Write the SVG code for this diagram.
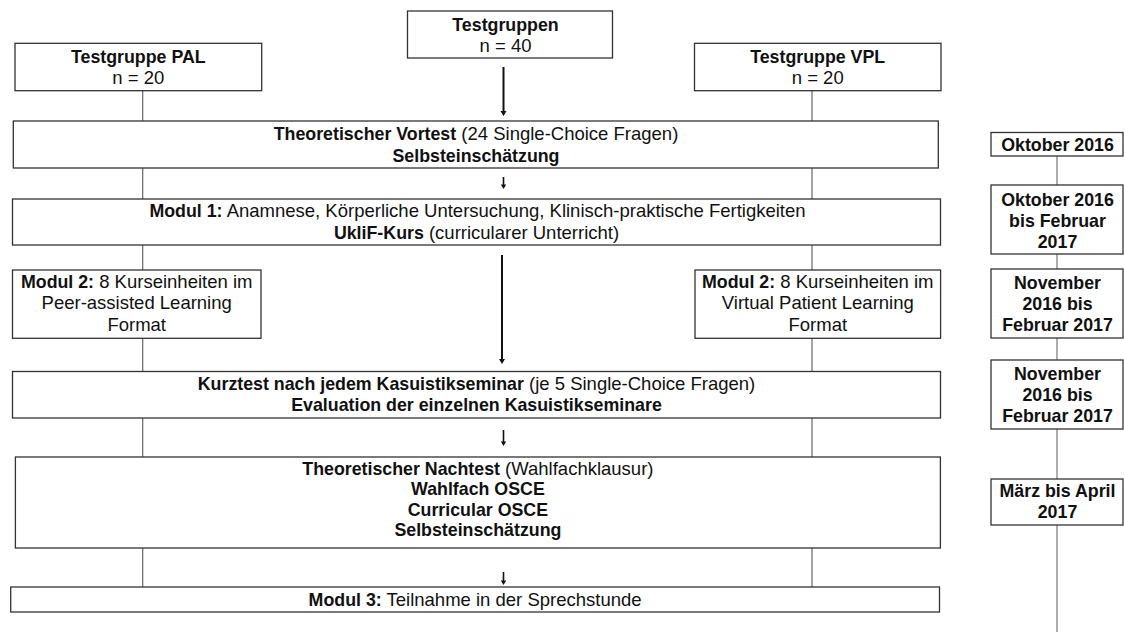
<svg xmlns="http://www.w3.org/2000/svg" width="1124" height="632" viewBox="0 0 1124 632">
<style>
text{font-family:"Liberation Sans",Arial,sans-serif;font-size:18.5px;fill:#111;text-anchor:middle}
.b{font-weight:bold;font-size:17.8px}
.box{fill:#fff;stroke:#333;stroke-width:1.3}
.con{stroke:#666;stroke-width:1.2;fill:none}
.tl{stroke:#777;stroke-width:1.2;fill:none}
.arr{stroke:#111;stroke-width:2;fill:none}
.arrs{stroke:#111;stroke-width:1.6;fill:none}
</style>
<g id="connectors">
<line class="con" x1="142.7" y1="91" x2="142.7" y2="121"/>
<line class="con" x1="142.7" y1="168" x2="142.7" y2="199"/>
<line class="con" x1="142.7" y1="245" x2="142.7" y2="270"/>
<line class="con" x1="142.7" y1="338" x2="142.7" y2="371"/>
<line class="con" x1="142.7" y1="418" x2="142.7" y2="457"/>
<line class="con" x1="142.7" y1="548" x2="142.7" y2="587"/>
<line class="con" x1="812" y1="91" x2="812" y2="121"/>
<line class="con" x1="812" y1="168" x2="812" y2="199"/>
<line class="con" x1="812" y1="245" x2="812" y2="270"/>
<line class="con" x1="812" y1="338" x2="812" y2="371"/>
<line class="con" x1="812" y1="418" x2="812" y2="457"/>
<line class="con" x1="812" y1="548" x2="812" y2="587"/>
<line class="arr" x1="503.5" y1="67" x2="503.5" y2="112"/>
<path d="M500.5,111 L506.5,111 L503.5,116 Z" fill="#111"/>
<line class="arrs" x1="503.5" y1="177" x2="503.5" y2="185"/>
<path d="M500.8,184.5 L506.2,184.5 L503.5,189 Z" fill="#111"/>
<line class="arr" x1="502" y1="255" x2="502" y2="360"/>
<path d="M499,359 L505,359 L502,364 Z" fill="#111"/>
<line class="arrs" x1="503.5" y1="430" x2="503.5" y2="442"/>
<path d="M500.8,441.5 L506.2,441.5 L503.5,446 Z" fill="#111"/>
<line class="arrs" x1="503.5" y1="572" x2="503.5" y2="581"/>
<path d="M500.8,580.5 L506.2,580.5 L503.5,585 Z" fill="#111"/>
<line class="tl" x1="1057" y1="156" x2="1057" y2="185"/>
<line class="tl" x1="1057" y1="254" x2="1057" y2="269"/>
<line class="tl" x1="1057" y1="338" x2="1057" y2="360"/>
<line class="tl" x1="1057" y1="429" x2="1057" y2="479"/>
<line class="tl" x1="1057" y1="525" x2="1057" y2="632" stroke="#999"/>
</g>
<g id="testgruppen">
<rect class="box" x="407.5" y="11" width="205" height="47"/>
<text x="505.5" y="30.5" class="b">Testgruppen</text>
<text x="505.5" y="51.5">n = 40</text>
</g>
<g id="pal">
<rect class="box" x="15" y="43.3" width="246.7" height="47.4"/>
<text x="138.3" y="63.3" class="b">Testgruppe PAL</text>
<text x="138.3" y="84">n = 20</text>
</g>
<g id="vpl">
<rect class="box" x="694.5" y="43.3" width="246.5" height="47.4"/>
<text x="817.7" y="63.3" class="b">Testgruppe VPL</text>
<text x="817.7" y="84">n = 20</text>
</g>
<g id="vortest">
<rect class="box" x="13.3" y="121" width="925" height="47"/>
<text x="476" y="140"><tspan class="b">Theoretischer Vortest</tspan> (24 Single-Choice Fragen)</text>
<text x="476" y="161.5" class="b">Selbsteinschätzung</text>
</g>
<g id="modul1">
<rect class="box" x="12.5" y="199" width="928" height="46"/>
<text x="477.5" y="217"><tspan class="b">Modul 1:</tspan> Anamnese, Körperliche Untersuchung, Klinisch-praktische Fertigkeiten</text>
<text x="476.5" y="238.5"><tspan class="b">UkliF-Kurs</tspan> (curricularer Unterricht)</text>
</g>
<g id="modul2-pal">
<rect class="box" x="12.5" y="270" width="248.5" height="68.3"/>
<text x="136.7" y="287.5"><tspan class="b">Modul 2:</tspan> 8 Kurseinheiten im</text>
<text x="136.7" y="309">Peer-assisted Learning</text>
<text x="136.7" y="330.5">Format</text>
</g>
<g id="modul2-vpl">
<rect class="box" x="695" y="270" width="245.6" height="68.3"/>
<text x="817.8" y="287.5"><tspan class="b">Modul 2:</tspan> 8 Kurseinheiten im</text>
<text x="817.8" y="309">Virtual Patient Learning</text>
<text x="817.8" y="330.5">Format</text>
</g>
<g id="kurztest">
<rect class="box" x="12.5" y="371.5" width="928" height="46.5"/>
<text x="476.5" y="389.5"><tspan class="b">Kurztest nach jedem Kasuistikseminar</tspan> (je 5 Single-Choice Fragen)</text>
<text x="476.5" y="410.7" class="b">Evaluation der einzelnen Kasuistikseminare</text>
</g>
<g id="nachtest">
<rect class="box" x="15.4" y="457" width="925" height="91"/>
<text x="477.9" y="474.5"><tspan class="b">Theoretischer Nachtest</tspan> (Wahlfachklausur)</text>
<text x="477.9" y="495" class="b">Wahlfach OSCE</text>
<text x="477.9" y="515.5" class="b">Curricular OSCE</text>
<text x="477.9" y="536" class="b">Selbsteinschätzung</text>
</g>
<g id="modul3">
<rect class="box" x="10.7" y="587" width="928.8" height="25"/>
<text x="475.1" y="605.5"><tspan class="b">Modul 3:</tspan> Teilnahme in der Sprechstunde</text>
</g>
<g id="t1">
<rect class="box" x="991" y="132.5" width="132" height="23.5"/>
<text x="1057.5" y="150.5" class="b">Oktober 2016</text>
</g>
<g id="t2">
<rect class="box" x="991" y="185" width="132" height="69"/>
<text x="1057.5" y="205.5" class="b">Oktober 2016</text>
<text x="1057.5" y="226.5" class="b">bis Februar</text>
<text x="1057.5" y="247.5" class="b">2017</text>
</g>
<g id="t3">
<rect class="box" x="991" y="269" width="132" height="69"/>
<text x="1057.5" y="289" class="b">November</text>
<text x="1057.5" y="310" class="b">2016 bis</text>
<text x="1057.5" y="331" class="b">Februar 2017</text>
</g>
<g id="t4">
<rect class="box" x="991" y="360" width="132" height="69"/>
<text x="1057.5" y="380" class="b">November</text>
<text x="1057.5" y="401" class="b">2016 bis</text>
<text x="1057.5" y="422" class="b">Februar 2017</text>
</g>
<g id="t5">
<rect class="box" x="991" y="479" width="132" height="46"/>
<text x="1057.5" y="497" class="b">März bis April</text>
<text x="1057.5" y="518.3" class="b">2017</text>
</g>
</svg>
